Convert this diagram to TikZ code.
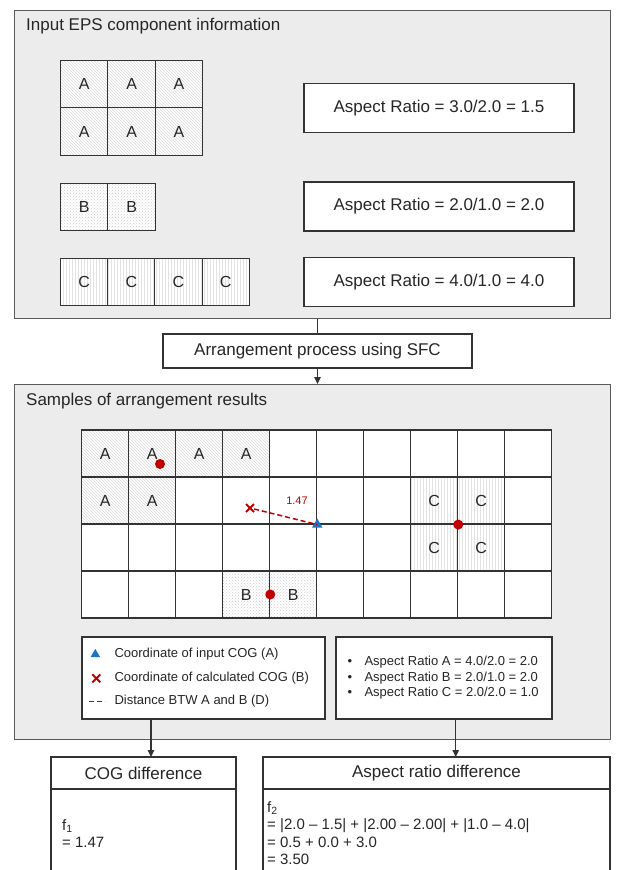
\documentclass[tikz,border=0pt]{standalone}
\usepackage{fontspec}
\setmainfont{Liberation Sans}
\usetikzlibrary{arrows.meta,positioning,shapes.geometric,shapes.misc,patterns}
\definecolor{panelgray}{HTML}{ECECEC}
\definecolor{edgegray}{HTML}{5A5A5A}
\definecolor{gridline}{HTML}{333333}
\definecolor{textdark}{HTML}{262626}
\definecolor{cogred}{HTML}{C00000}
\definecolor{cogblue}{HTML}{1F73C4}
\newcommand{\pxfont}[2]{\fontsize{#1}{#2}\selectfont}

\begin{document}
\begin{tikzpicture}[
  x=1pt, y=-1pt,
  every node/.style={text=textdark},
  panel/.style={rectangle, draw=edgegray, line width=1.3pt, fill=panelgray, anchor=north west, inner sep=0pt},
  ptitle/.style={anchor=west, inner sep=0pt, font=\pxfont{17}{20}},
  cellbase/.style={rectangle, draw=gridline, line width=1.1pt, minimum size=47pt, inner sep=0pt, font=\pxfont{16}{19}},
  cell/.style={cellbase, fill=white},
  cellA/.style={cellbase, preaction={fill=white}, pattern=north west lines, pattern color=gray!30},
  cellB/.style={cellbase, preaction={fill=white}, pattern=crosshatch dots, pattern color=gray!40},
  cellC/.style={cellbase, preaction={fill=white}, pattern=vertical lines, pattern color=gray!22},
  ratio/.style={rectangle, draw=gridline, line width=1.3pt, fill=white, minimum width=270pt,
                minimum height=49pt, font=\pxfont{17}{20}},
  proc/.style={rectangle, draw=gridline, line width=1.3pt, fill=white, minimum width=309pt,
               minimum height=34pt, font=\pxfont{17}{20}},
  legbox/.style={rectangle, draw=gridline, line width=1.3pt, fill=white, minimum height=82pt},
  legtext/.style={anchor=west, inner sep=0pt, font=\pxfont{13}{15.5}},
  headbox/.style={rectangle, draw=gridline, line width=1.3pt, fill=white, minimum height=32pt,
                  outer sep=0pt, font=\pxfont{17}{20}},
  bodybox/.style={rectangle, draw=gridline, line width=1.3pt, fill=white, minimum height=110pt,
                  outer sep=0pt, anchor=north},
  bodytext/.style={anchor=north west, inner sep=0pt, align=left, font=\pxfont{15}{17.5}},
  cogdot/.style={circle, fill=cogred, minimum size=10pt, inner sep=0pt},
  cogtri/.style={regular polygon, regular polygon sides=3, fill=cogblue, minimum size=12pt, inner sep=0pt},
  cogx/.style={cross out, draw=cogred, line width=2pt, minimum size=6pt, inner sep=0pt},
  dist/.style={draw=cogred, line width=1.5pt, dash pattern=on 5pt off 3pt},
  line/.style={draw=gridline, line width=1.1pt},
  arr/.style={draw=gridline, line width=1.1pt, -{Triangle[length=7pt,width=6.5pt]}},
]
\useasboundingbox (0,0) rectangle (620,870);
\clip (0,0) rectangle (620,870);

\node[panel, minimum width=596pt, minimum height=308pt] (inp) at (14,10) {};
\node[ptitle] (inptitle) at ([xshift=12pt,yshift=-16pt]inp.north west) {Input EPS component information};

\foreach \i in {0,1,2}
  \foreach \j in {0,1}
    \node[cellA, minimum size=47.4pt] (ia-\i-\j) at ({60.5+47.4*(\i+0.5)},{60.5+47.4*(\j+0.5)}) {A};
\foreach \i in {0,1}
  \node[cellB, minimum size=47.4pt] (ib-\i) at ({60.5+47.4*(\i+0.5)},207) {B};
\foreach \i in {0,...,3}
  \node[cellC, minimum size=47.2pt] (ic-\i) at ({60.5+47.2*(\i+0.5)},282) {C};

\node[ratio] (ra) at (439,108) {Aspect Ratio = 3.0/2.0 = 1.5};
\node[ratio] (rb) at (439,206.5) {Aspect Ratio = 2.0/1.0 = 2.0};
\node[ratio] (rc) at (439,282) {Aspect Ratio = 4.0/1.0 = 4.0};

\node[proc] (sfc) at (317.5,351) {Arrangement process using SFC};
\node[panel, minimum width=596pt, minimum height=355pt] (res) at (14,384) {};
\draw[line] (sfc.north |- inp.south) -- (sfc.north);
\draw[arr] (sfc.south) -- (sfc.south |- res.north);
\node[ptitle] (restitle) at ([xshift=12pt,yshift=-17pt]res.north west) {Samples of arrangement results};

\foreach \c in {0,...,9}
  \foreach \r in {0,...,3}
    \node[cell] (g-\c-\r) at ({81.7+47*(\c+0.5)},{430+47*(\r+0.5)}) {};
\foreach \c/\r in {0/0,1/0,2/0,3/0,0/1,1/1}
  \node[cellA] (a-\c-\r) at (g-\c-\r) {A};
\foreach \c in {3,4}
  \node[cellB] (b-\c) at (g-\c-3) {B};
\foreach \c/\r in {7/1,8/1,7/2,8/2}
  \node[cellC] (c-\c-\r) at (g-\c-\r) {C};

\node[cogdot] (dota) at (160,464) {};
\node[cogdot] (dotb) at (b-3.east) {};
\node[cogdot] (dotc) at (c-7-1.south east) {};
\node[cogx] (calc) at (250,508) {};
\node[cogtri] (inpcog) at (g-4-1.south east) {};
\draw[dist] (calc) -- (inpcog.center);
\node[inner sep=0pt, text=cogred, font=\pxfont{11}{13}] (dlab) at (297,501) {1.47};

\node[legbox, minimum width=243pt] (leg) at (203.5,678) {};
\node[legtext] (l1) at ([xshift=33pt,yshift=-18pt]leg.north west) {Coordinate of input COG (A)};
\node[legtext] (l2) at ([xshift=33pt,yshift=-42pt]leg.north west) {Coordinate of calculated COG (B)};
\node[legtext] (l3) at ([xshift=33pt,yshift=-65pt]leg.north west) {Distance BTW A and B (D)};
\node[cogtri, minimum size=11pt] (k1) at ([xshift=-19pt]l1.west) {};
\node[cogx] (k2) at ([xshift=-18pt]l2.west) {};
\coordinate (k3a) at ([xshift=-25pt]l3.west);
\coordinate (k3b) at ([xshift=-9pt]l3.west);
\draw[dist] (k3a) -- (k3b);

\node[legbox, minimum width=216pt] (arl) at (444,678) {};
\node[legtext, align=left] (arlist) at ([xshift=12pt]arl.west)
  {\makebox[17pt][l]{\textbullet}Aspect Ratio A = 4.0/2.0 = 2.0\\
   \makebox[17pt][l]{\textbullet}Aspect Ratio B = 2.0/1.0 = 2.0\\
   \makebox[17pt][l]{\textbullet}Aspect Ratio C = 2.0/2.0 = 1.0};

\node[headbox, minimum width=185pt] (cog) at (143.5,773) {COG difference};
\node[bodybox, minimum width=185pt] (cogbody) at (cog.south) {};
\node[headbox, minimum width=347pt] (ard) at (436.5,773) {Aspect ratio difference};
\node[bodybox, minimum width=347pt] (ardbody) at (ard.south) {};

\draw[arr] ([xshift=-52.5pt]leg.south) -- ([xshift=-52.5pt]leg.south |- cog.north);
\draw[arr] ([xshift=11.7pt]arl.south) -- ([xshift=11.7pt]arl.south |- ard.north);

\node[bodytext] (f1) at ([xshift=11pt,yshift=-30pt]cogbody.north west) {f\textsubscript{1}\\= 1.47};
\node[bodytext] (f2) at ([xshift=4pt,yshift=-12pt]ardbody.north west)
  {f\textsubscript{2}\\= |2.0 -- 1.5| + |2.00 -- 2.00| + |1.0 -- 4.0|\\= 0.5 + 0.0 + 3.0\\= 3.50};
\end{tikzpicture}
\end{document}
